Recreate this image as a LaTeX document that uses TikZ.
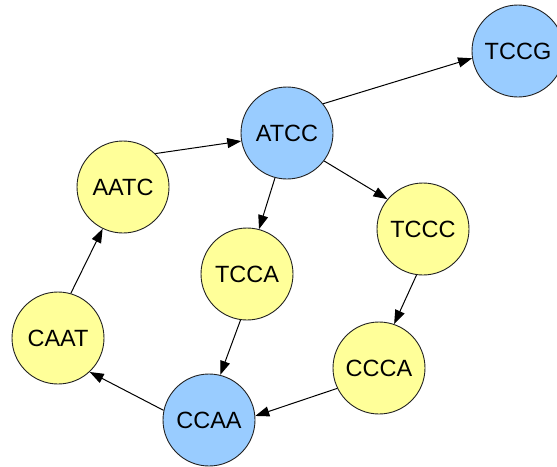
\documentclass[tikz,border=0pt]{standalone}
\usepackage{fontspec}
\setmainfont{Liberation Sans}
\usetikzlibrary{arrows.meta}
\definecolor{kblue}{HTML}{99CCFF}
\definecolor{kyellow}{HTML}{FFFF99}
\definecolor{kline}{HTML}{222222}
\begin{document}
\begin{tikzpicture}[x=1pt,y=-1pt,
  kmer/.style={circle, draw=kline, line width=0.9pt, inner sep=0pt,
    minimum size=92pt, font=\fontsize{23.5}{27}\selectfont},
  hub/.style={kmer, fill=kblue},
  leaf/.style={kmer, fill=kyellow},
  edge/.style={draw=black, line width=1pt,
    -{Triangle[length=14pt,width=10pt]}}]
\useasboundingbox (0,0) rectangle (557,466);
% de Bruijn graph vertices
\node[hub]  (TCCG) at (518,51)  {TCCG};
\node[hub]  (ATCC) at (287,133) {ATCC};
\node[leaf] (AATC) at (123,187) {AATC};
\node[leaf] (TCCC) at (423,229) {TCCC};
\node[leaf] (TCCA) at (247,274) {TCCA};
\node[leaf] (CAAT) at (58,338)  {CAAT};
\node[leaf] (CCCA) at (379,368) {CCCA};
\node[hub]  (CCAA) at (209,420) {CCAA};
% overlap edges
\draw[edge] (ATCC.39.5) -- (TCCG.189);
\draw[edge] (AATC.46.7) -- (ATCC.190);
\draw[edge] (ATCC.255)  -- (TCCA.75);
\draw[edge] (ATCC.-37.6) -- (TCCC.140);
\draw[edge] (TCCC.262.6) -- (CCCA.71.6);
\draw[edge] (TCCA.262.7) -- (CCAA.76);
\draw[edge] (CAAT.74)   -- (AATC.244);
\draw[edge] (CCAA.168)  -- (CAAT.-47.4);
\draw[edge] (CCCA.206)  -- (CCAA.5);
\end{tikzpicture}
\end{document}
